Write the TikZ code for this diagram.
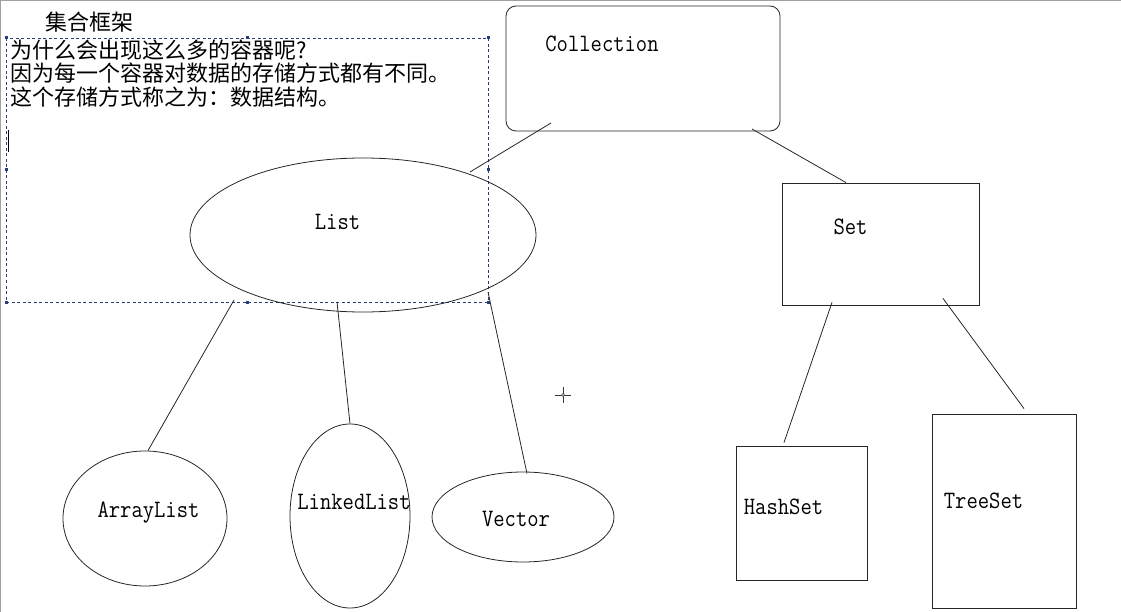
\documentclass[tikz,border=0pt]{standalone}
\usepackage{fontspec}
\newfontfamily\cjk{Noto Sans CJK SC}
\newfontfamily\mono[FakeStretch=0.88]{Latin Modern Mono}
\usepackage{tikz}
\usetikzlibrary{shapes.geometric}
\definecolor{selblue}{RGB}{40,60,130}
\definecolor{frame}{RGB}{160,160,160}

\begin{document}
\begin{tikzpicture}[x=1pt,y=-1pt,
  block/.style={draw=black!85,line width=0.8pt,inner sep=0pt},
  oval/.style={block,ellipse},
  word/.style={font=\mono\fontsize{25}{25}\selectfont,inner sep=0pt,anchor=base},
  han/.style={font=\cjk\fontsize{22}{22}\selectfont,inner sep=0pt,anchor=west},
  handle/.style={fill=selblue,minimum size=3pt,inner sep=0pt},
  link/.style={black!85,line width=0.8pt}]
\useasboundingbox (0,0) rectangle (1121,612);
\draw[frame,line width=1.5pt] (0,612) -- (0,0) -- (1121,0);
% text box
\node at (89,22) [han,anchor=center] (title) {集合框架};
\draw[selblue,line width=0.8pt,dash pattern=on 3pt off 2.5pt] (6,38) rectangle (488,302);
\foreach \x/\y in {6/38,247/38,488/38,6/170,488/170,6/302,247/302,488/302}
  \node at (\x,\y) [handle] {};
\node at (10,50) [han] (q1) {为什么会出现这么多的容器呢?};
\node at (10,73) [han] (q2) {因为每一个容器对数据的存储方式都有不同。};
\node at (10,97) [han] (q3) {这个存储方式称之为：数据结构。};
\draw[black,line width=0.8pt] (8,130) -- (8,152);
% shapes
\node at (643,68.5) [block,rounded corners=10pt,minimum width=274pt,minimum height=125pt] (coll) {};
\node at (363,235) [oval,minimum width=346pt,minimum height=154pt] (list) {};
\node at (880.5,244) [block,minimum width=197pt,minimum height=122pt] (set) {};
\node at (145,518.5) [oval,minimum width=164pt,minimum height=135pt] (arr) {};
\node at (350,516) [oval,minimum width=120pt,minimum height=184pt] (lnk) {};
\node at (523,517) [oval,minimum width=182pt,minimum height=90pt] (vec) {};
\node at (801.5,513) [block,minimum width=131pt,minimum height=134pt] (hash) {};
\node at (1004,511) [block,minimum width=144pt,minimum height=194pt] (tree) {};
% labels
\node at (602,52) [word] (colltxt) {Collection};
\node at (337.5,230) [word] (listtxt) {List};
\node at (850.5,235) [word] (settxt) {Set};
\node at (148.5,517) [word] (arrtxt) {ArrayList};
\node at (354,509) [word] (lnktxt) {LinkedList};
\node at (516,526) [word] (vectxt) {Vector};
\node at (783.5,514) [word] (hashtxt) {HashSet};
\node at (983.5,508) [word] (treetxt) {TreeSet};
% connectors
\draw[link] ([shift={(-92,54.5)}]coll.center) -- ([shift={(107,-63)}]list.center);
\draw[link] ([shift={(109,60.5)}]coll.center) -- ([shift={(-34.5,0)}]set.north);
\draw[link] ([shift={(-129,65)}]list.center) -- ([shift={(3,0)}]arr.north);
\draw[link] ([shift={(-26,67)}]list.center) -- (lnk.north);
\draw[link] ([shift={(125,57)}]list.center) -- ([shift={(4,2)}]vec.north);
\draw[link] ([shift={(-48.5,-3)}]set.south) -- ([shift={(-17.5,-3)}]hash.north);
\draw[link] ([shift={(62.5,-7)}]set.south) -- ([shift={(20,-5)}]tree.north);
% cursor
\draw[black!80,line width=0.8pt] (555,395) -- (571,395) (563,387) -- (563,403);
\draw[black!80,fill=white,line width=0.6pt] (563,395) circle (1.5);
\end{tikzpicture}
\end{document}
